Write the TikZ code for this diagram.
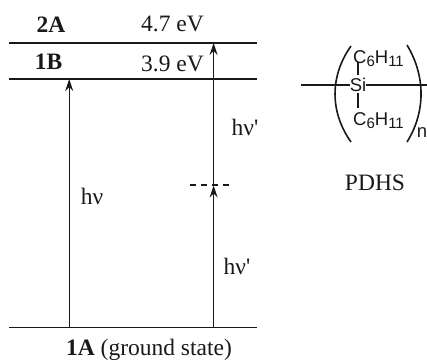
\documentclass[tikz,border=0pt]{standalone}
\usepackage{fontspec}
\setmainfont{Liberation Serif}
\setsansfont{Liberation Sans}
\usetikzlibrary{arrows.meta}
\tikzset{
  level/.style={line width=1.7pt,black!90},
  trans/.style={line width=1.4pt,black!90,-{Stealth[length=12pt,width=8pt]}},
  lab/.style={font=\fontsize{23.5}{27}\selectfont,anchor=base,inner sep=0pt,text=black!90},
  chem/.style={font=\sffamily\fontsize{18.5}{22}\selectfont,anchor=base,inner sep=0pt,text=black!90},
  bond/.style={line width=1.1pt,black!90},
  paren/.style={line width=1.6pt,black!90}
}
\newcommand{\subs}[1]{\raisebox{-0.2em}{\fontsize{15}{17}\selectfont #1}}
\begin{document}
\begin{tikzpicture}[x=1pt,y=-1pt]
\useasboundingbox (0,0) rectangle (427,361);
% levels
\coordinate (l2a) at (9,43); \coordinate (r2a) at (257,43);
\coordinate (l1b) at (9,79); \coordinate (r1b) at (257,79);
\coordinate (l1a) at (9,327.5); \coordinate (r1a) at (257,327.5);
\draw[level] (l2a) -- (r2a);
\draw[level] (l1b) -- (r1b);
\draw[level] (l1a) -- (r1a);
% arrows
\coordinate (a0) at (69.2,327.5); \coordinate (a1) at (69.2,79);
\coordinate (b0) at (213.6,327.5); \coordinate (b1) at (213.6,185.5); \coordinate (b2) at (213.6,43);
\draw[trans] (a0) -- (a1);
\draw[trans] (b0) -- (b1);
\draw[trans] (b1) -- (b2);
\coordinate (d0) at (190,185); \coordinate (d1) at (230,185);
\draw[line width=1.2pt,black!90,dash pattern=on 6pt off 5pt] (d0) -- (d1);
% labels
\node[lab] (t2a) at (51,33) {\textbf{2A}};
\node[lab] (t47) at (172.5,32) {4.7 eV};
\node[lab] (t1b) at (48.5,69) {\textbf{1B}};
\node[lab] (t39) at (172.5,71.5) {3.9 eV};
\node[lab] (hv) at (92,204) {hν};
\node[lab] (hp1) at (245,135) {hν\textquotesingle};
\node[lab] (hp2) at (237,274) {hν\textquotesingle};
\node[lab] (gs) at (149,355.5) {\textbf{1A} (ground state)};
\node[lab] (pdhs) at (375,190) {PDHS};
% chemical structure
\node[chem] (si) at (358,91) {Si};
\node[chem] (c1) at (378.5,63) {C\subs{6}H\subs{11}};
\node[chem] (c2) at (378.5,125) {C\subs{6}H\subs{11}};
\node[chem] (n) at (422,137) {n};
\coordinate (w) at (301,85); \coordinate (e) at (427,85);
\coordinate (bu0) at (358,75); \coordinate (bu1) at (358,62);
\coordinate (bd0) at (358,93); \coordinate (bd1) at (358,108);
\draw[bond] (w) -- (si.west |- w);
\draw[bond] (si.east |- w) -- (e);
\draw[bond] (bu0) -- (bu1);
\draw[bond] (bd0) -- (bd1);
% parentheses
\coordinate (p1) at (351,46); \coordinate (p2) at (351,142);
\coordinate (q1) at (407,45); \coordinate (q2) at (407,142);
\draw[paren] (p1) .. controls (329.7,76) and (329.7,112) .. (p2);
\draw[paren] (q1) .. controls (425.7,76) and (425.7,112) .. (q2);
\end{tikzpicture}
\end{document}
